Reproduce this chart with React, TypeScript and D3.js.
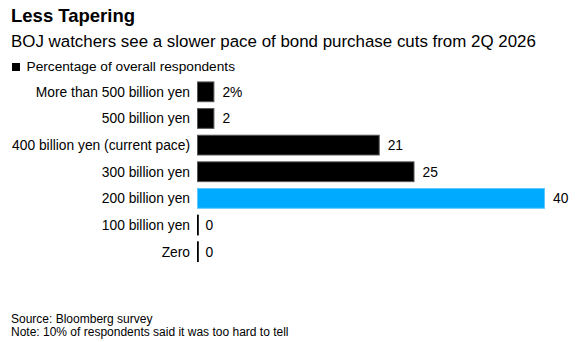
import React from "react";
import * as d3 from "d3";

const categories = [
  "More than 500 billion yen",
  "500 billion yen",
  "400 billion yen (current pace)",
  "300 billion yen",
  "200 billion yen",
  "100 billion yen",
  "Zero",
];
const values = [2, 2, 21, 25, 40, 0, 0];
const valueLabels = ["2%", "2", "21", "25", "40", "0", "0"];
const highlighted = [false, false, false, false, true, false, false];

const W = 588;
const H = 342;
const FONT = "Liberation Sans, Arial, sans-serif";

export default function App() {
  const x = d3.scaleLinear().domain([0, 40]).range([197, 545]);
  const y = d3
    .scaleBand<string>()
    .domain(categories)
    .range([78.5, 265])
    .paddingInner(0.22)
    .paddingOuter(0.11);

  return (
    <svg
      width={W}
      height={H}
      style={{ position: "absolute", left: 0, top: 0, background: "#fff" }}
      fontFamily={FONT}
    >
      <text x={11} y={22} fontSize={18.5} fontWeight="bold" fill="#000">
        Less Tapering
      </text>
      <text x={11} y={47} fontSize={16.9} fill="#000">
        BOJ watchers see a slower pace of bond purchase cuts from 2Q 2026
      </text>
      <rect x={12} y={63} width={8} height={8} fill="#000" />
      <text x={26.5} y={71} fontSize={13.7} fill="#000">
        Percentage of overall respondents
      </text>

      {categories.map((c, i) => {
        const v = values[i];
        const by = y(c)!;
        const bh = y.bandwidth();
        const x0 = x(0);
        const x1 = x(v);
        const isZero = v === 0;
        return (
          <g key={c}>
            <text
              x={190}
              y={by + bh / 2 + 5}
              fontSize={13.8}
              textAnchor="end"
              fill="#000"
            >
              {c}
            </text>
            {isZero ? (
              <rect x={x0} y={by} width={1.8} height={bh} fill="#000" />
            ) : (
              <rect
                x={x0 + 0.5}
                y={by + 0.5}
                width={x1 - x0 - 1}
                height={bh - 1}
                fill={highlighted[i] ? "#00aaff" : "#000"}
                stroke={highlighted[i] ? "#5cc8ff" : "#555"}
                strokeWidth={1}
              />
            )}
            <text
              x={isZero ? x0 + 8.5 : x1 + 8}
              y={by + bh / 2 + 5}
              fontSize={13.8}
              fill="#000"
            >
              {valueLabels[i]}
            </text>
          </g>
        );
      })}

      <text x={11} y={322.5} fontSize={12} fill="#000">
        Source: Bloomberg survey
      </text>
      <text x={11} y={335.5} fontSize={12} fill="#000">
        Note: 10% of respondents said it was too hard to tell
      </text>
    </svg>
  );
}
